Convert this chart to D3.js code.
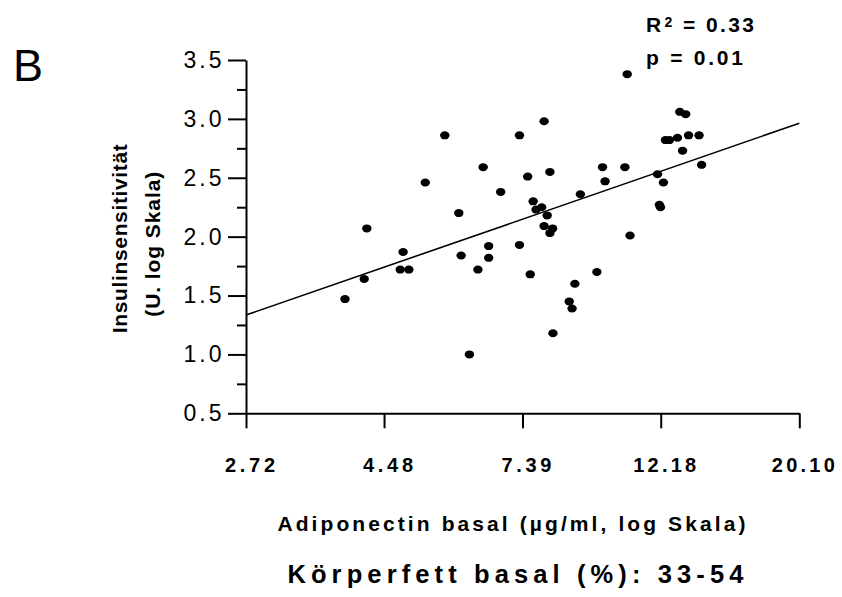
<!DOCTYPE html>
<html>
<head>
<meta charset="utf-8">
<script src="https://cdn.jsdelivr.net/npm/d3@7"></script>
<style>
  body { margin: 0; background: #fff; }
  text { font-family: "Liberation Sans", Arial, sans-serif; fill: #000; }
</style>
</head>
<body>
<div class="chart"></div>
<script>
// Adiponectin basal (ug/ml) and insulin sensitivity for each subject
var adiponectin = [3.89, 4.17, 4.21, 4.75, 4.90, 4.80, 5.20, 5.58, 5.87, 5.92,
  6.10, 6.29, 6.41, 6.54, 6.54, 6.83, 7.31, 7.31, 7.53, 7.60,
  7.68, 7.76, 7.92, 8.08, 7.99, 8.24, 8.16, 7.99, 8.16, 8.25,
  8.75, 8.84, 8.93, 9.11, 9.67, 9.87, 9.96, 10.70, 10.79, 10.90,
  12.04, 12.30, 12.12, 12.17, 12.39, 12.57, 12.94, 13.47, 13.99, 13.18,
  13.05, 13.33, 14.12];
var insulinSens = [1.47, 1.64, 2.07, 1.72, 1.72, 1.87, 2.46, 2.86, 2.20, 1.84,
  1.00, 1.72, 2.59, 1.92, 1.82, 2.38, 2.86, 1.93, 2.51, 1.68,
  2.30, 2.23, 2.25, 2.18, 2.09, 2.07, 2.03, 2.98, 2.55, 1.18,
  1.45, 1.39, 1.60, 2.36, 1.70, 2.59, 2.47, 2.59, 3.38, 2.01,
  2.53, 2.46, 2.27, 2.25, 2.82, 2.82, 2.84, 2.86, 2.86, 2.73,
  3.06, 3.04, 2.61];

// Regression line y = a + b * ln(x)
var fitIntercept = 0.52;
var fitSlope = 0.814;

// Axis ticks
var xTickValues = [2.72, 4.48, 7.39, 12.18, 20.10];
var xTickLabels = ["2.72", "4.48", "7.39", "12.18", "20.10"];
var yMajorTicks = [0.5, 1.0, 1.5, 2.0, 2.5, 3.0, 3.5];
var yMinorTicks = [0.75, 1.25, 1.75, 2.25, 2.75, 3.25];

// SVG area
var svgWidth = 842;
var svgHeight = 597;
var plotLeft = 246, plotRight = 799.3, plotTop = 60, plotBottom = 413.3;

var svg = d3.select(".chart")
  .append("svg")
  .attr("width", svgWidth)
  .attr("height", svgHeight);

var points = adiponectin.map((d, i) => ({ x: d, y: insulinSens[i] }));

// Scales: log x axis, linear y axis
var xScale = d3.scaleLog()
  .domain([xTickValues[0], xTickValues[xTickValues.length - 1]])
  .range([plotLeft, plotRight]);

var yScale = d3.scaleLinear()
  .domain([0.5, 3.5])
  .range([plotBottom, plotTop]);

// Minor y ticks first (short)
svg.append("g")
  .attr("transform", `translate(${plotLeft}, 0)`)
  .call(d3.axisLeft(yScale).tickValues(yMinorTicks).tickSize(9).tickSizeOuter(0).tickFormat(""))
  .call(g => g.select(".domain").remove())
  .call(g => g.selectAll("line").attr("stroke-width", 2));

// Major y ticks with labels
var yAxis = svg.append("g")
  .attr("transform", `translate(${plotLeft}, 0)`)
  .call(d3.axisLeft(yScale).tickValues(yMajorTicks).tickSize(18).tickSizeOuter(0)
    .tickPadding(6.5).tickFormat(d3.format(".1f")));
yAxis.select(".domain").attr("stroke-width", 2);
yAxis.selectAll("line").attr("stroke-width", 2);
yAxis.selectAll("text")
  .style("font-family", "Liberation Sans, Arial, sans-serif")
  .style("font-size", "23px")
  .attr("textLength", 38)
  .attr("lengthAdjust", "spacing");

// X axis
var xAxis = svg.append("g")
  .attr("transform", `translate(0, ${plotBottom})`)
  .call(d3.axisBottom(xScale).tickValues(xTickValues).tickSize(15).tickSizeOuter(0)
    .tickFormat((d, i) => xTickLabels[i]));
xAxis.select(".domain").attr("stroke-width", 2);
xAxis.selectAll("line").attr("stroke-width", 2);
xAxis.selectAll("text")
  .style("font-family", "Liberation Sans, Arial, sans-serif")
  .style("font-size", "20px")
  .style("font-weight", "bold")
  .attr("y", 58.4)
  .attr("dy", 0)
  .attr("dx", 3.5)
  .attr("textLength", (d, i) => xTickLabels[i].length > 4 ? 63 : 50)
  .attr("lengthAdjust", "spacing");

// Regression line
svg.append("line")
  .attr("x1", xScale(xTickValues[0]))
  .attr("y1", yScale(fitIntercept + fitSlope * Math.log(xTickValues[0])))
  .attr("x2", xScale(xTickValues[xTickValues.length - 1]))
  .attr("y2", yScale(fitIntercept + fitSlope * Math.log(xTickValues[xTickValues.length - 1])))
  .attr("stroke", "#000")
  .attr("stroke-width", 1.6);

// Data points
svg.selectAll(".dot")
  .data(points)
  .enter()
  .append("ellipse")
  .attr("class", "dot")
  .attr("cx", d => xScale(d.x))
  .attr("cy", d => yScale(d.y))
  .attr("rx", 4.7)
  .attr("ry", 4.0)
  .attr("fill", "#000");

// Panel letter
svg.append("text")
  .attr("x", 13)
  .attr("y", 81)
  .style("font-size", "45px")
  .text("B");

// Statistics
var r2 = svg.append("text")
  .attr("x", 646)
  .attr("y", 32.3)
  .style("font-size", "21px")
  .style("font-weight", "bold")
  .style("letter-spacing", "2.4px");
r2.append("tspan").text("R");
r2.append("tspan").attr("dy", -5.6).attr("dx", 1).style("font-size", "14px").text("2");
r2.append("tspan").attr("dy", 5.6).text(" = 0.33");

svg.append("text")
  .attr("x", 646)
  .attr("y", 65)
  .attr("textLength", 97)
  .attr("lengthAdjust", "spacing")
  .style("font-size", "21px")
  .style("font-weight", "bold")
  .text("p = 0.01");

// Y axis title (two lines)
svg.append("text")
  .attr("transform", "translate(126.7, 238.7) rotate(-90)")
  .attr("text-anchor", "middle")
  .attr("textLength", 189)
  .attr("lengthAdjust", "spacing")
  .style("font-size", "21px")
  .style("font-weight", "bold")
  .text("Insulinsensitivität");

svg.append("text")
  .attr("transform", "translate(160, 244.2) rotate(-90)")
  .attr("text-anchor", "middle")
  .attr("textLength", 145)
  .attr("lengthAdjust", "spacing")
  .style("font-size", "21px")
  .style("font-weight", "bold")
  .text("(U. log Skala)");

// X axis title
svg.append("text")
  .attr("x", 511.4)
  .attr("y", 531)
  .attr("text-anchor", "middle")
  .attr("textLength", 468)
  .attr("lengthAdjust", "spacing")
  .style("font-size", "21px")
  .style("font-weight", "bold")
  .text("Adiponectin basal (µg/ml, log Skala)");

// Group title
svg.append("text")
  .attr("x", 515.4)
  .attr("y", 582.7)
  .attr("text-anchor", "middle")
  .attr("textLength", 456)
  .attr("lengthAdjust", "spacing")
  .style("font-size", "25.5px")
  .style("font-weight", "bold")
  .text("Körperfett basal (%): 33-54");
</script>
</body>
</html>
